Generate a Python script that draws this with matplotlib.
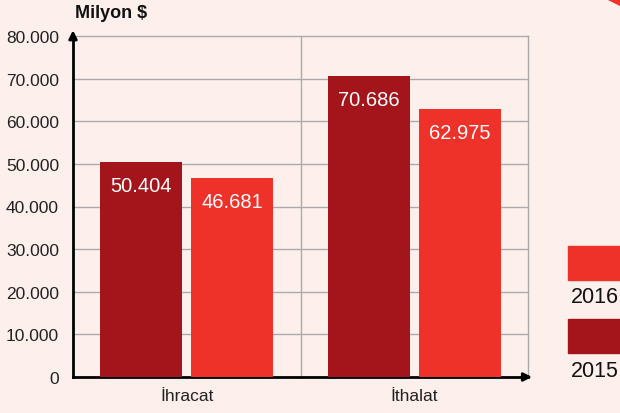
import matplotlib.pyplot as plt
import numpy as np
from matplotlib.patches import Rectangle, Polygon

plt.rcParams['font.family'] = ['Liberation Sans Narrow', 'Liberation Sans', 'DejaVu Sans']

# veriler
kategoriler = ["İhracat", "İthalat"]
yillar = ["2015", "2016"]
deger_2015 = [50404, 70686]
deger_2016 = [46681, 62975]
y_ticks = [0, 10000, 20000, 30000, 40000, 50000, 60000, 70000, 80000]
y_tick_labels = ["0", "10.000", "20.000", "30.000", "40.000", "50.000", "60.000", "70.000", "80.000"]

bg = "#FDF0EC"
renk_2015 = "#A3151A"
renk_2016 = "#EE3229"

fig = plt.figure(figsize=(6.2, 4.14), dpi=100, facecolor=bg)
ax = fig.add_axes([73 / 620, 1 - 378 / 414, 455 / 620, 341 / 414])
ax.set_facecolor(bg)

x = np.arange(len(kategoriler)) + 0.5
w = 0.36
ax.bar(x - 0.2, deger_2015, w, color=renk_2015, zorder=3)
ax.bar(x + 0.2, deger_2016, w, color=renk_2016, zorder=3)

def fmt(v):
    return f"{v:,}".replace(",", ".")

for xi, v in zip(x - 0.2, deger_2015):
    ax.annotate(fmt(v), (xi, v), xytext=(0, -17), textcoords="offset points",
                ha="center", va="center", color="white", fontsize=14.5, zorder=4)
for xi, v in zip(x + 0.2, deger_2016):
    ax.annotate(fmt(v), (xi, v), xytext=(0, -17), textcoords="offset points",
                ha="center", va="center", color="white", fontsize=14.5, zorder=4)

ax.set_xlim(0, 2)
ax.set_ylim(0, 80000)
ax.set_yticks(y_ticks)
ax.set_yticklabels(y_tick_labels, fontsize=12.5, color="#222222")
ax.set_xticks(x)
ax.set_xticklabels(kategoriler, fontsize=12.5, color="#222222")
ax.tick_params(length=0, pad=8)
ax.tick_params(axis="y", pad=10)

for yv in y_ticks[1:]:
    ax.axhline(yv, color="#AAAAAA", lw=1, zorder=1, clip_on=False)
for xv in [1, 2]:
    ax.axvline(xv, color="#AAAAAA", lw=1, zorder=1, clip_on=False)

for s in ["top", "right"]:
    ax.spines[s].set_visible(False)
ax.spines["left"].set_linewidth(2)
ax.spines["bottom"].set_linewidth(2)

# oklar
ax.annotate("", xy=(0, 1.025), xytext=(0, 0.98), xycoords="axes fraction",
            arrowprops=dict(arrowstyle="-|>", color="black", lw=2, mutation_scale=12))
ax.annotate("", xy=(1.015, 0), xytext=(0.98, 0), xycoords="axes fraction",
            arrowprops=dict(arrowstyle="-|>", color="black", lw=2, mutation_scale=12))

fig.text(75 / 620, 1 - 14 / 414, "Milyon $", fontsize=13, fontweight="bold",
         ha="left", va="center", color="#111111")

# lejant
fig.patches.append(Rectangle((568 / 620, 1 - 281 / 414), 60 / 620, 34 / 414,
                             transform=fig.transFigure, color=renk_2016))
fig.patches.append(Rectangle((568 / 620, 1 - 354 / 414), 60 / 620, 34 / 414,
                             transform=fig.transFigure, color=renk_2015))
fig.text(571 / 620, 1 - 298 / 414, yillar[1], fontsize=15.5, ha="left", va="center", color="#111111")
fig.text(571 / 620, 1 - 372 / 414, yillar[0], fontsize=15.5, ha="left", va="center", color="#111111")

# köşe süsü
fig.patches.append(Polygon([(608 / 620, 1.0), (1.0, 1.0), (1.0, 1 - 6 / 414)],
                           transform=fig.transFigure, color=renk_2016))

fig.savefig("out.png", dpi=100, facecolor=bg)
